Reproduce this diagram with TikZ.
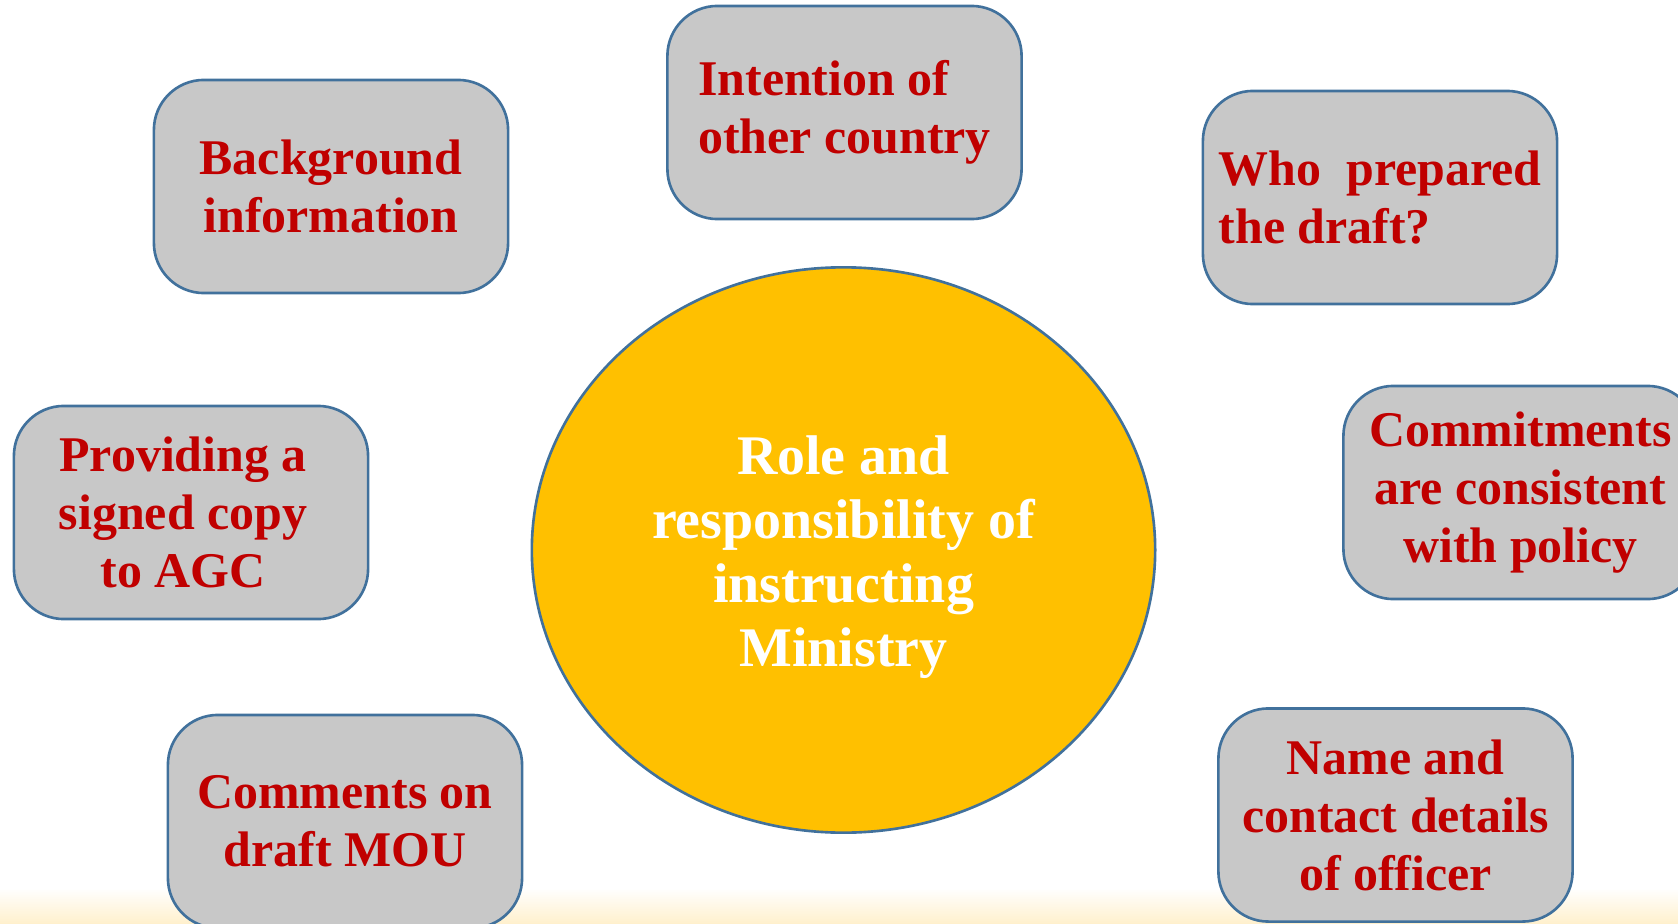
\documentclass[tikz,border=0pt]{standalone}
\usepackage{tikz}
\usetikzlibrary{shapes.geometric}
\usepackage{fontspec}
\setmainfont{Liberation Serif}

\definecolor{itemred}{HTML}{C00000}
\definecolor{itemgray}{HTML}{C8C8C8}
\definecolor{edgeblue}{HTML}{41719C}
\definecolor{roleyellow}{HTML}{FFC000}
\definecolor{bandcream}{HTML}{FFF0CC}

\tikzset{
every picture/.style={
line width=0.75pt
}}

\begin{document}
\begin{tikzpicture}[x=0.01cm, y=-0.01cm,
item/.style = {rectangle, draw=edgeblue, fill=itemgray, rounded corners=0.5cm,
  minimum width=3.54cm, minimum height=2.13cm, inner sep=0pt, align=center,
  text=itemred, font=\fontsize{14.2pt}{16.5pt}\selectfont\bfseries},
core/.style = {ellipse, draw=edgeblue, fill=roleyellow, minimum width=6.23cm,
  minimum height=5.65cm, inner sep=0pt, align=center, text=white,
  font=\fontsize{15.9pt}{18.2pt}\selectfont\bfseries}]

\useasboundingbox (0,0) rectangle (1678,924);
\clip (0,0) rectangle (1678,924);

\shade [top color=white, bottom color=bandcream] (0,888) rectangle (1678,924);

\node [core] (role) at (843.5,550) {\rule{0pt}{15pt}Role and\\responsibility of\\instructing\\Ministry};

\node [item] (background) at (331,186.5) {Background\\information};
\node [item, align=left] (intention) at (844.5,112.5) {Intention of\\other country};
\node [item, align=left] (who) at (1380,197.5) {Who\ \ prepared\\the draft?};
\node [item] (commit) at (1520.5,492.5) {Commitments\\are consistent\\with policy};
\node [item] (signed) at (191,512.5) {\hspace*{-4.5pt}Providing a\\\hspace*{-4.5pt}signed copy\\\hspace*{-4.5pt}to AGC};
\node [item] (comments) at (345,821.5) {Comments on\\draft MOU};
\node [item] (officer) at (1395.5,815) {Name and\\contact details\\of officer};
% \node at (843.5,900) {};

\end{tikzpicture}
\end{document}
